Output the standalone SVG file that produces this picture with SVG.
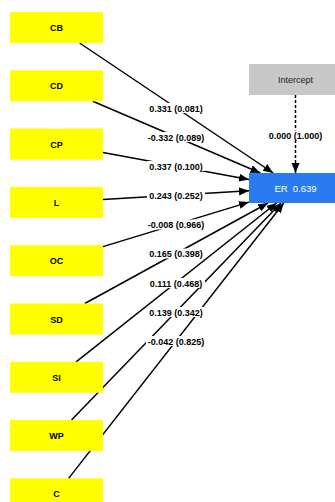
<svg xmlns="http://www.w3.org/2000/svg" width="335" height="502" viewBox="0 0 335 502">
<style>
.c{stroke:#000;stroke-width:1.5;fill:none;marker-end:url(#ah)}
.d{stroke:#000;stroke-width:1.5;fill:none;stroke-dasharray:3 2;marker-end:url(#ah)}
.y{fill:#FFFF00}
.t{font-family:"Liberation Sans",Arial,sans-serif;font-size:9px;font-weight:bold;text-anchor:middle;fill:#000}
.lb{fill:#fff}
.lt{font-family:"Liberation Sans",Arial,sans-serif;font-size:9px;font-weight:bold;text-anchor:middle;fill:#000}
</style>
<defs>
<marker id="ah" markerUnits="userSpaceOnUse" markerWidth="11" markerHeight="9" refX="10" refY="4" orient="auto">
<path d="M0,0 L10,4 L0,8 z" fill="#000"/>
</marker>
</defs>
<rect width="335" height="502" fill="#fff"/>
<g id="connectors">
<line class="c" x1="79.6" y1="43" x2="273.2" y2="173"/>
<line class="c" x1="92.8" y1="101.3" x2="260.4" y2="173"/>
<line class="c" x1="103" y1="152.6" x2="249" y2="179.5"/>
<line class="c" x1="103" y1="199.6" x2="249" y2="190.8"/>
<line class="c" x1="103" y1="246.6" x2="249" y2="202.1"/>
<line class="c" x1="84.8" y1="303.5" x2="268.1" y2="203"/>
<line class="c" x1="76.1" y1="361.8" x2="276.6" y2="203"/>
<line class="c" x1="71.5" y1="420.1" x2="281" y2="203"/>
<line class="c" x1="68.6" y1="478.4" x2="283.8" y2="203"/>
<line class="d" x1="295.5" y1="95" x2="295.5" y2="173"/>
<g id="labels">
<rect class="lb" x="147" y="103" width="58" height="10"/>
<text class="lt" x="176" y="111.5">0.331 (0.081)</text>
<rect class="lb" x="146" y="132" width="60" height="10"/>
<text class="lt" x="176" y="140.5">-0.332 (0.089)</text>
<rect class="lb" x="147" y="161" width="58" height="10"/>
<text class="lt" x="176" y="169.5">0.337 (0.100)</text>
<rect class="lb" x="147" y="190.5" width="58" height="10"/>
<text class="lt" x="176" y="199">0.243 (0.252)</text>
<rect class="lb" x="146" y="219.5" width="60" height="10"/>
<text class="lt" x="176" y="228">-0.008 (0.966)</text>
<rect class="lb" x="147" y="248.5" width="58" height="10"/>
<text class="lt" x="176" y="257">0.165 (0.398)</text>
<rect class="lb" x="147" y="278" width="58" height="10"/>
<text class="lt" x="176" y="286.5">0.111 (0.468)</text>
<rect class="lb" x="147" y="307" width="58" height="10"/>
<text class="lt" x="176" y="315.5">0.139 (0.342)</text>
<rect class="lb" x="146" y="336" width="60" height="10"/>
<text class="lt" x="176" y="344.5">-0.042 (0.825)</text>
<rect class="lb" x="266" y="130.5" width="59" height="10"/>
<text class="lt" x="295.5" y="139">0.000 (1.000)</text>
</g>
</g>
<g id="CB"><rect class="y" x="10" y="12" width="93" height="31"/><text class="t" x="56.5" y="31">CB</text></g>
<g id="CD"><rect class="y" x="10" y="70.3" width="93" height="31"/><text class="t" x="56.5" y="89.3">CD</text></g>
<g id="CP"><rect class="y" x="10" y="128.6" width="93" height="31"/><text class="t" x="56.5" y="147.6">CP</text></g>
<g id="L"><rect class="y" x="10" y="186.9" width="93" height="31"/><text class="t" x="56.5" y="205.9">L</text></g>
<g id="OC"><rect class="y" x="10" y="245.2" width="93" height="31"/><text class="t" x="56.5" y="264.2">OC</text></g>
<g id="SD"><rect class="y" x="10" y="303.5" width="93" height="31"/><text class="t" x="56.5" y="322.5">SD</text></g>
<g id="SI"><rect class="y" x="10" y="361.8" width="93" height="31"/><text class="t" x="56.5" y="380.8">SI</text></g>
<g id="WP"><rect class="y" x="10" y="420.1" width="93" height="31"/><text class="t" x="56.5" y="439.1">WP</text></g>
<g id="C"><rect class="y" x="10" y="478.4" width="93" height="31"/><text class="t" x="56.5" y="497.4">C</text></g>
<g id="Intercept"><rect x="249" y="64" width="93" height="31" fill="#C8C8C8"/><text x="295.5" y="83" font-family="Liberation Sans,Arial,sans-serif" font-size="9" text-anchor="middle" fill="#222">Intercept</text></g>
<g id="ER"><rect x="249" y="173" width="93" height="30" fill="#2B7BF0"/><text x="295.5" y="191.5" font-family="Liberation Sans,Arial,sans-serif" font-size="9.5" text-anchor="middle" fill="#fff" xml:space="preserve">ER  0.639</text></g>
</svg>
